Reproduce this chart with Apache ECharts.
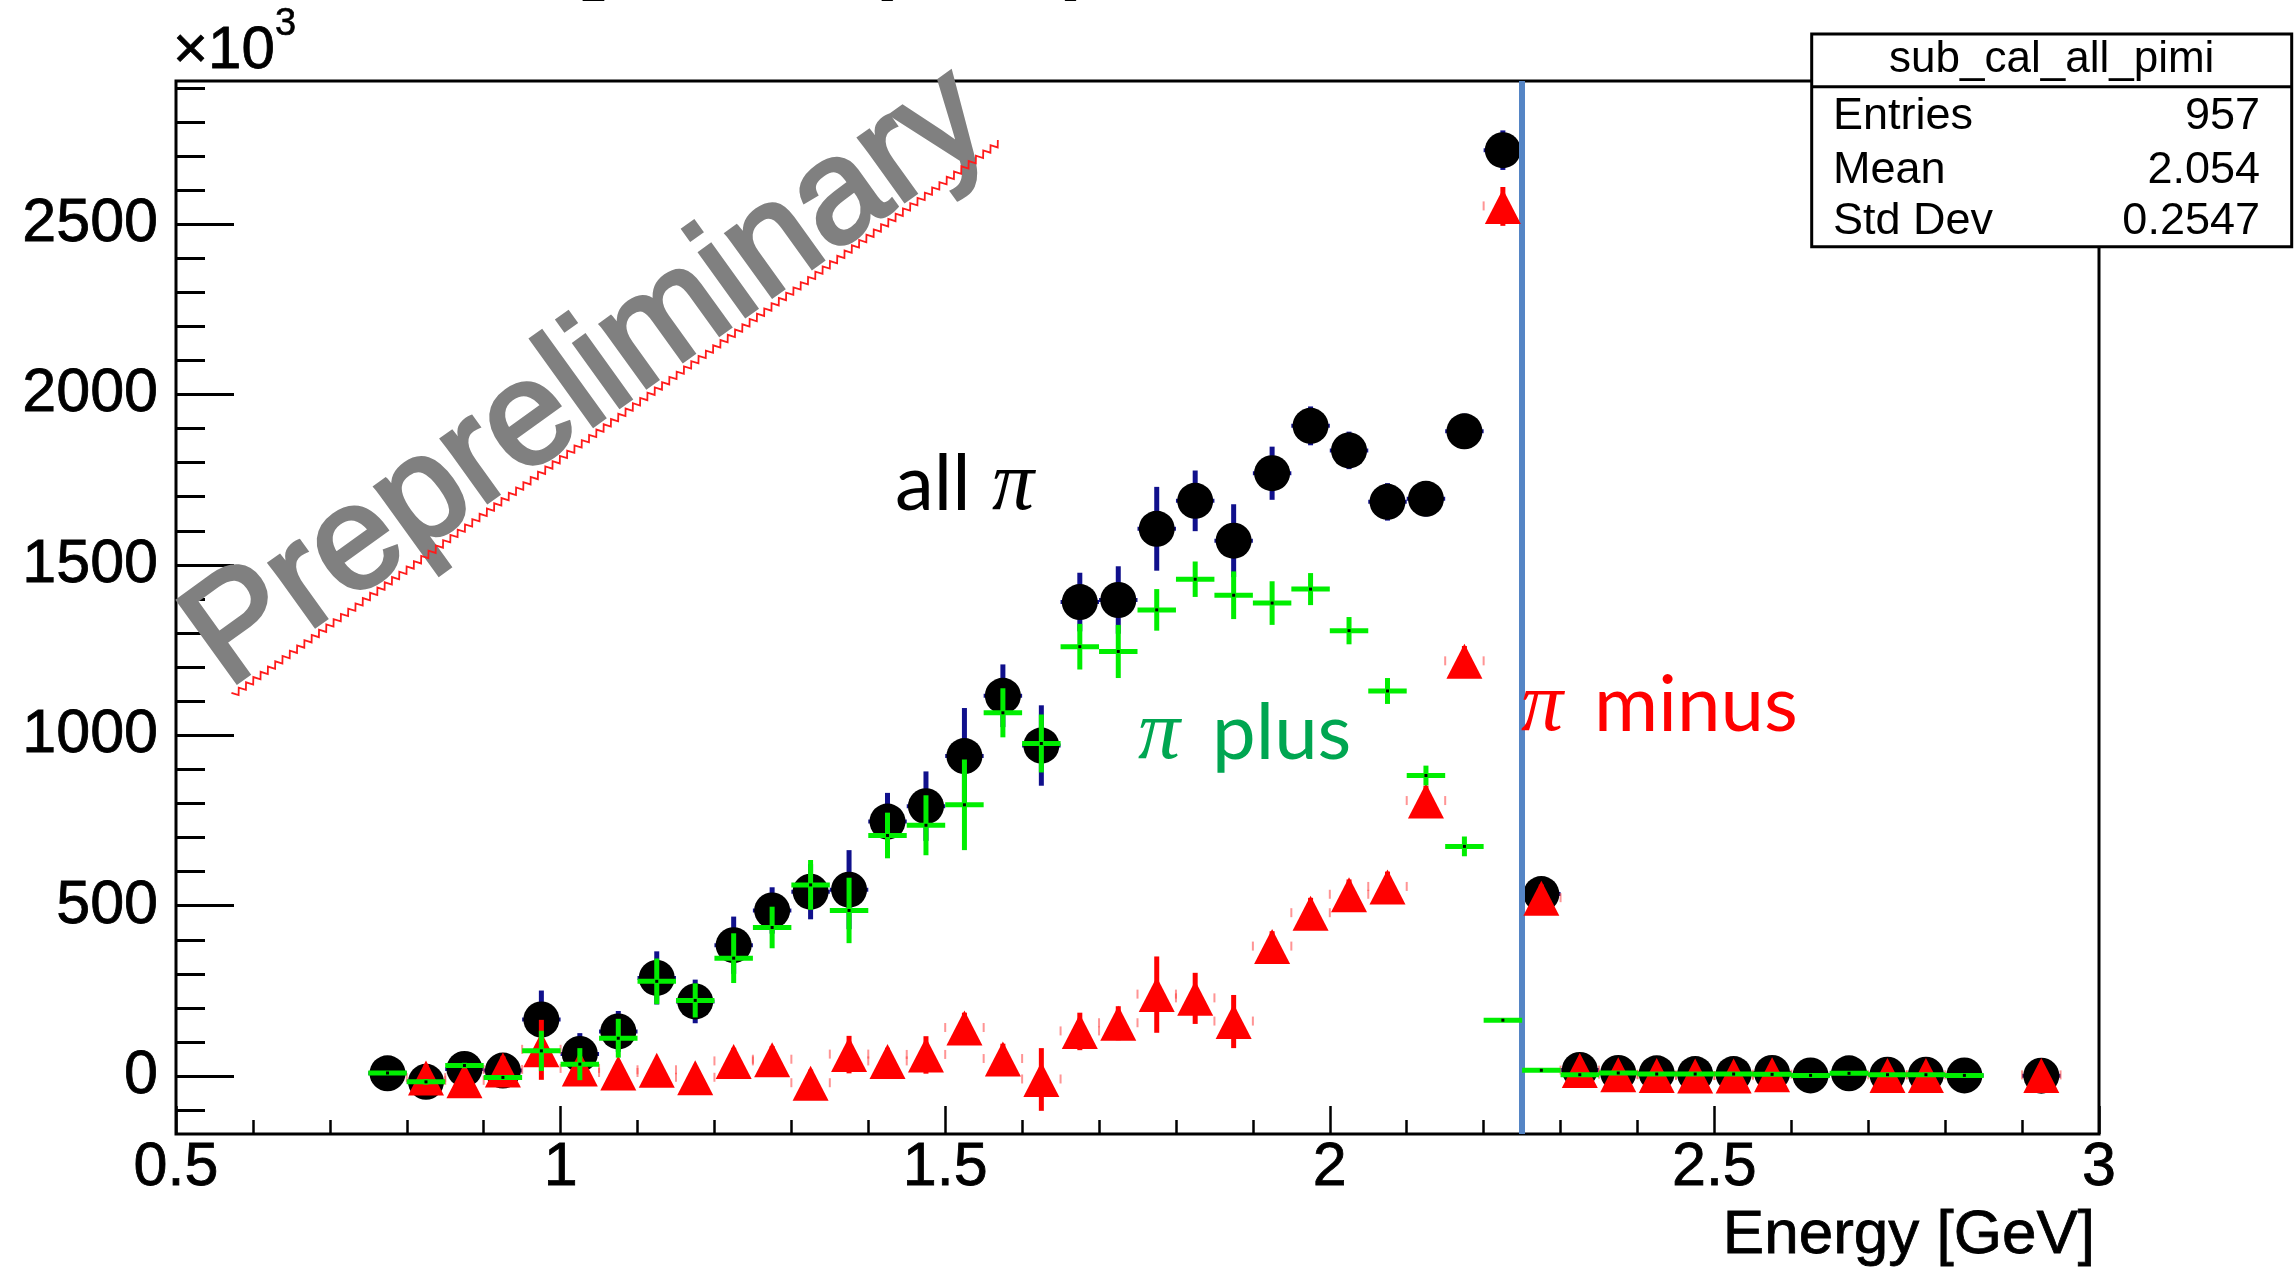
<!DOCTYPE html>
<html>
<head>
<meta charset="utf-8">
<script src="https://cdn.jsdelivr.net/npm/echarts@6/dist/echarts.min.js"></script>
<style>
  html, body { margin: 0; padding: 0; background: #ffffff; }
  #chart { width: 2294px; height: 1269px; }
</style>
</head>
<body>
<div id="chart"></div>
<script>
// Bin centres (GeV), bin width 0.05
const energyBins = [0.775,0.825,0.875,0.925,0.975,1.025,1.075,1.125,1.175,1.225,
  1.275,1.325,1.375,1.425,1.475,1.525,1.575,1.625,1.675,1.725,
  1.775,1.825,1.875,1.925,1.975,2.025,2.075,2.125,2.175,2.225,
  2.275,2.325,2.375,2.425,2.475,2.525,2.575,2.625,2.675,2.725,
  2.775,2.825,2.875,2.925];
const halfBin = 0.025;

// all pi (x10^3 counts) and errors
const allPi = [8,-17,21,16,166,65,131,288,219,384,
  486,541,547,747,792,939,1116,970,1391,1397,
  1606,1688,1571,1769,1908,1836,1685,1694,1892,2717,
  534,18,9,8,6,6,9,2,8,4,
  4,2,null,1];
const allPiErr = [15,25,20,20,85,61,60,78,64,84,
  68,81,116,84,102,141,92,118,86,99,
  123,89,107,78,57,55,55,52,52,58,
  40,10,8,8,6,6,8,4,6,4,
  4,4,null,4];

// pi plus
const piPlus = [9,-17,31,-4,74,35,111,278,222,346,
  436,561,486,706,736,796,1066,976,1260,1246,
  1368,1458,1411,1388,1429,1307,1130,882,674,164,
  17,4,9,6,6,6,5,2,8,4,
  4,2,null,null];
const piPlusErr = [4,8,8,6,59,47,57,67,50,73,
  61,73,96,67,88,133,72,85,67,78,
  61,52,70,64,47,40,38,29,29,3,
  3,0,0,0,0,0,0,0,0,0,
  0,0,null,null];

// pi minus
const piMinus = [null,-6,-14,18,77,21,9,17,-5,43,
  48,-21,63,43,62,141,50,-10,131,155,
  239,228,160,380,478,532,555,807,1217,2552,
  522,16,4,2,0,0,4,null,null,2,
  2,null,null,2];
const piMinusErr = [null,40,30,40,88,35,35,35,30,40,
  40,40,55,40,55,45,45,92,55,50,
  112,75,78,45,45,45,45,45,45,57,
  40,5,5,5,5,5,5,null,null,5,
  5,null,null,5];

// axis ticks
const yMajorTicks = [0, 500, 1000, 1500, 2000, 2500];
const yRange = [-170, 2920];
const xRange = [0.5, 3];
const cutEnergy = 2.2535;

// statistics box
const statsTitle = 'sub_cal_all_pimi';
const statsRows = [['Entries', '957'], ['Mean', '2.054'], ['Std Dev', '0.2547']];

const yMinorTicks = [];
for (let v = -100; v <= 2900; v += 100) yMinorTicks.push(v);

function points(vals, errs) {
  const out = [];
  energyBins.forEach((e, i) => {
    if (vals[i] !== null) out.push([e, vals[i], errs[i]]);
  });
  return out;
}

function errorBars(color, vWidth, hWidth, capMode) {
  return function (params, api) {
    const x = api.value(0), y = api.value(1), e = api.value(2);
    const c = api.coord([x, y]);
    const top = api.coord([x, y + e]);
    const bot = api.coord([x, y - e]);
    const l = api.coord([x - halfBin, y]);
    const r = api.coord([x + halfBin, y]);
    const kids = [];
    if (e > 0) kids.push({ type: 'line', shape: { x1: c[0], y1: top[1], x2: c[0], y2: bot[1] },
      style: { stroke: color, lineWidth: vWidth } });
    if (capMode) {
      kids.push({ type: 'line', shape: { x1: l[0], y1: c[1] - 5, x2: l[0], y2: c[1] + 4 },
        style: { stroke: 'rgba(255,60,60,0.55)', lineWidth: 2 } });
      kids.push({ type: 'line', shape: { x1: r[0], y1: c[1] - 5, x2: r[0], y2: c[1] + 4 },
        style: { stroke: 'rgba(255,60,60,0.55)', lineWidth: 2 } });
    } else {
      kids.push({ type: 'line', shape: { x1: l[0], y1: c[1], x2: r[0], y2: c[1] },
        style: { stroke: color, lineWidth: hWidth } });
    }
    return { type: 'group', children: kids };
  };
}

const FAM = {
  sans: { name: '"Liberation Sans", Arial, Helvetica, sans-serif', mid: 0.3465 },
  lato: { name: 'Lato, "Open Sans", sans-serif', mid: 0.387 },
  serif: { name: '"Liberation Serif", "DejaVu Serif", serif', mid: 0.3375 }
};

// text placed by its alphabetic baseline
function textAt(str, x, base, size, fam, color, opt) {
  opt = opt || {};
  const f = FAM[fam];
  const align = opt.align || 'left';
  const style = {
    text: str, x: 0, y: -f.mid * size,
    font: (opt.italic ? 'italic ' : '') + (opt.bold ? 'bold ' : '') + size + 'px ' + f.name,
    fill: color, align: align, textAlign: align,
    verticalAlign: 'middle', textVerticalAlign: 'middle'
  };
  if (opt.stroke) { style.stroke = color; style.lineWidth = opt.stroke; }
  return {
    type: 'text', x: x, y: base, rotation: opt.rotation || 0, z: opt.z || 40, silent: true,
    style: style
  };
}

function zigzag(x1, y1, x2, y2, period, amp) {
  const dx = x2 - x1, dy = y2 - y1, L = Math.hypot(dx, dy);
  const ux = dx / L, uy = dy / L, nx = -uy, ny = ux;
  const n = Math.round(L / (period / 2));
  const pts = [];
  for (let i = 0; i <= n; i++) {
    const t = i * L / n, s = (i % 2 ? 1 : -1) * amp;
    pts.push([x1 + ux * t + nx * s, y1 + uy * t + ny * s]);
  }
  return pts;
}

const chart = echarts.init(document.getElementById('chart'), null, { renderer: 'canvas' });

const tickStyle = { color: '#000', width: 2.5 };
const labelFont = { fontFamily: '"Liberation Sans", Arial, sans-serif', fontSize: 61, color: '#000',
  textBorderColor: '#000', textBorderWidth: 0.8 };

const graphics = [
  // cropped title line at the very top
  textAt('[', 578, -10, 82, 'sans', '#000', { bold: true }),
  textAt('(\u03c0, \u03c0)', 866, -10, 82, 'sans', '#000', { bold: true }),
  // exponent of the y axis
  textAt('\u00d710', 173, 72, 60, 'sans', '#000', { stroke: 0.8 }),
  textAt('3', 275, 38, 38, 'sans', '#000', { stroke: 0.6 }),
  // x axis title
  textAt('Energy [GeV]', 2095, 1257, 62, 'sans', '#000', { align: 'right', stroke: 0.8 }),
  // watermark
  textAt('Prepreliminary', 233.7, 697.8, 147, 'sans', '#808080',
    { rotation: 35.8 * Math.PI / 180, z: 30, stroke: 4 }),
  { type: 'polyline', z: 31, silent: true,
    shape: { points: zigzag(233.2, 695.3, 999.6, 142.4, 9, 3) },
    style: { stroke: '#ff1a1a', lineWidth: 1.8, fill: null } },
  // annotations
  textAt('all', 895, 515, 78, 'lato', '#000'),
  textAt('\u03c0', 992, 515, 84, 'serif', '#000', { italic: true }),
  textAt('\u03c0', 1138, 764, 84, 'serif', '#00a651', { italic: true }),
  textAt('plus', 1212, 764, 78, 'lato', '#00a651'),
  textAt('\u03c0', 1521, 736, 84, 'serif', '#ff0000', { italic: true }),
  textAt('minus', 1594, 736, 78, 'lato', '#ff0000'),
  // statistics box
  { type: 'rect', z: 50, silent: true,
    shape: { x: 1811.7, y: 34, width: 480, height: 212.7 },
    style: { fill: '#fff', stroke: '#000', lineWidth: 3 } },
  { type: 'line', z: 51, silent: true,
    shape: { x1: 1811.7, y1: 86.7, x2: 2291.7, y2: 86.7 },
    style: { stroke: '#000', lineWidth: 3 } },
  textAt(statsTitle, 2051.7, 75, 44, 'sans', '#000', { align: 'center', z: 52 })
];
const rowBase = [132.5, 185.7, 237.5];
statsRows.forEach((row, i) => {
  graphics.push(textAt(row[0], 1833, rowBase[i], 45, 'sans', '#000', { z: 52 }));
  graphics.push(textAt(row[1], 2260, rowBase[i], 45, 'sans', '#000', { align: 'right', z: 52 }));
});

const option = {
  animation: false,
  backgroundColor: '#ffffff',
  grid: { left: 176, right: 195, top: 81, bottom: 135, show: true,
    borderColor: '#000', borderWidth: 3, backgroundColor: 'transparent' },
  xAxis: {
    type: 'value', min: xRange[0], max: xRange[1], interval: 0.5,
    axisLine: { show: false, onZero: false },
    axisTick: { show: true, inside: true, length: 28, lineStyle: tickStyle },
    minorTick: { show: true, splitNumber: 5, length: 14, lineStyle: tickStyle },
    axisLabel: Object.assign({ margin: 4, showMinLabel: true, showMaxLabel: true,
      formatter: v => String(v) }, labelFont),
    splitLine: { show: false }, minorSplitLine: { show: false }
  },
  yAxis: [
    {
      type: 'value', position: 'left', min: yRange[0], max: yRange[1],
      axisLine: { show: false, onZero: false },
      axisTick: { show: true, inside: true, length: 58, customValues: yMajorTicks, lineStyle: { color: '#000', width: 3 } },
      axisLabel: Object.assign({ margin: 18, customValues: yMajorTicks, formatter: v => String(v) }, labelFont),
      splitLine: { show: false }
    },
    {
      type: 'value', position: 'left', min: yRange[0], max: yRange[1],
      axisLine: { show: false, onZero: false },
      axisTick: { show: true, inside: true, length: 29, customValues: yMinorTicks, lineStyle: { color: '#000', width: 3 } },
      axisLabel: { show: false },
      splitLine: { show: false }
    }
  ],
  graphic: { elements: graphics },
  series: [
    { name: 'all pi errors', type: 'custom', z: 2, data: points(allPi, allPiErr),
      encode: { x: 0, y: 1 }, renderItem: errorBars('#10108c', 5, 4, false), silent: true },
    { name: 'all \u03c0', type: 'scatter', z: 3, data: points(allPi, allPiErr),
      symbol: 'circle', symbolSize: 36, itemStyle: { color: '#000', opacity: 1 }, silent: true },
    { name: 'pi minus errors', type: 'custom', z: 4, data: points(piMinus, piMinusErr),
      encode: { x: 0, y: 1 }, renderItem: errorBars('#ff0000', 5, 2, true), silent: true },
    { name: '\u03c0 minus', type: 'scatter', z: 5, data: points(piMinus, piMinusErr),
      symbol: 'triangle', symbolSize: [36, 35], itemStyle: { color: '#ff0000', opacity: 1 }, silent: true },
    { name: 'pi plus errors', type: 'custom', z: 6, data: points(piPlus, piPlusErr),
      encode: { x: 0, y: 1 }, renderItem: errorBars('#00ee00', 5, 5, false), silent: true },
    { name: '\u03c0 plus', type: 'scatter', z: 7, data: points(piPlus, piPlusErr),
      symbol: 'rect', symbolSize: 3, itemStyle: { color: '#000', opacity: 1 }, silent: true,
      markLine: {
        silent: true, symbol: ['none', 'none'], label: { show: false },
        lineStyle: { color: '#5585c5', width: 6, type: 'solid' },
        emphasis: { disabled: true },
        data: [{ xAxis: cutEnergy }]
      } }
  ]
};

chart.setOption(option);
</script>
</body>
</html>
